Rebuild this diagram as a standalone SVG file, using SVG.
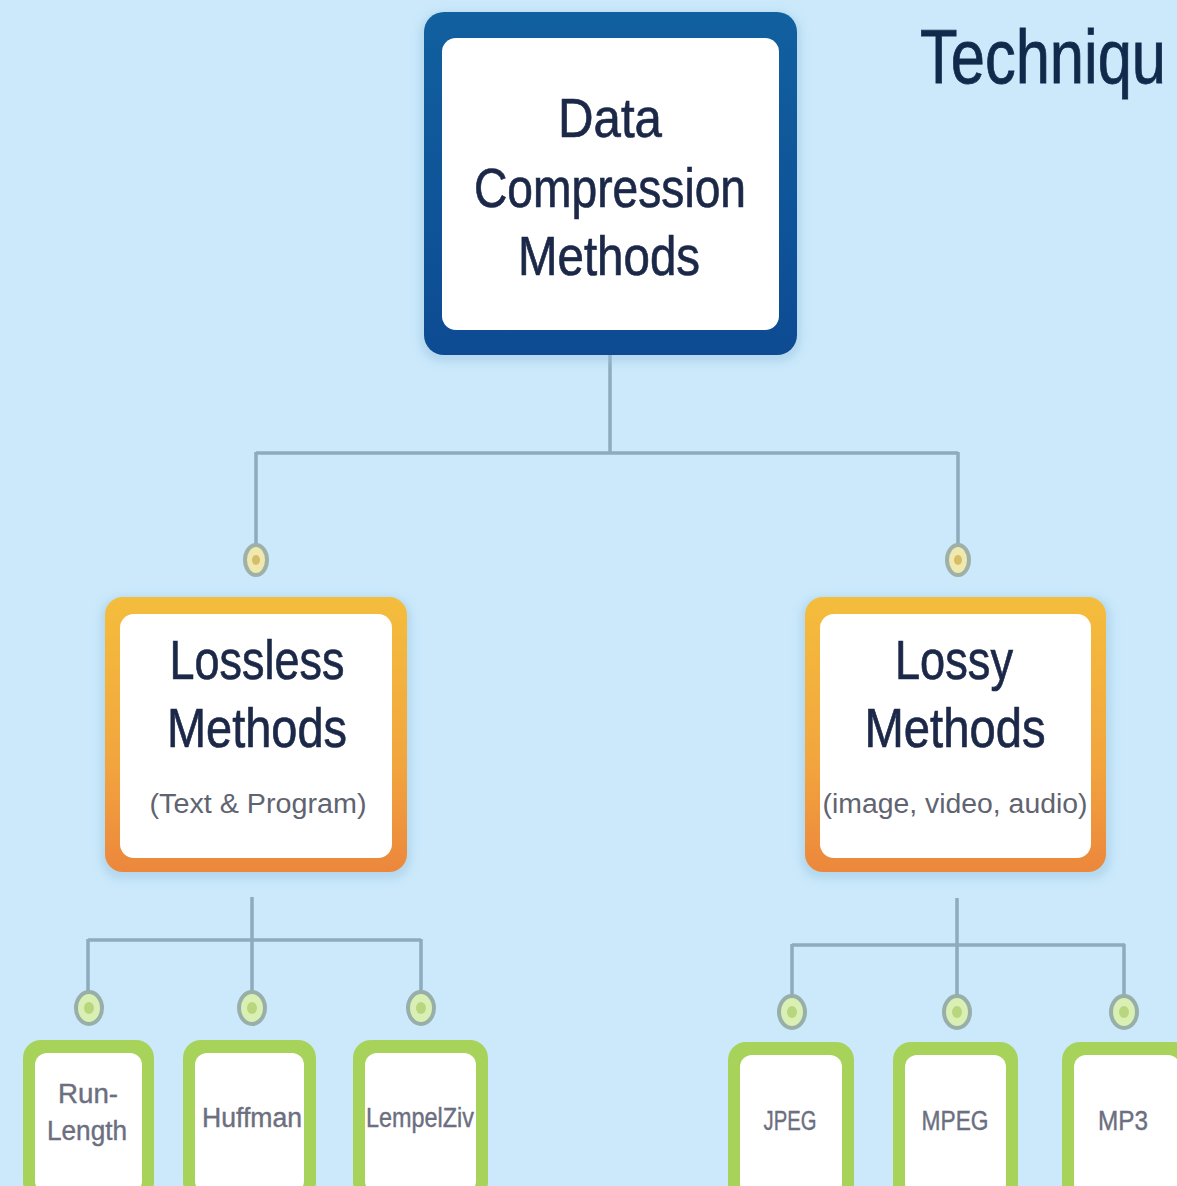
<svg xmlns="http://www.w3.org/2000/svg" width="1177" height="1186" viewBox="0 0 1177 1186">
<defs>
<linearGradient id="orange" x1="0" y1="0" x2="0" y2="1">
<stop offset="0" stop-color="#f4bd3c"/>
<stop offset="0.6" stop-color="#f2a53e"/>
<stop offset="1" stop-color="#ec873c"/>
</linearGradient>
<linearGradient id="blue" x1="0" y1="0" x2="0" y2="1">
<stop offset="0" stop-color="#11609f"/>
<stop offset="1" stop-color="#0d4b93"/>
</linearGradient>
<filter id="glow" x="-10%" y="-10%" width="120%" height="120%">
<feGaussianBlur stdDeviation="4"/>
</filter>
</defs>
<style>
.bg{fill:#cbe9fb}
.wire{fill:none;stroke:#8eaabd;stroke-width:3.5}
.dotY{fill:#f0e9ad;stroke:#9fb0a8;stroke-width:4}
.dotYc{fill:#d8bd68}
.dotG{fill:#d9efb3;stroke:#98afa9;stroke-width:4}
.dotGc{fill:#b8d67e}
.inner{fill:#ffffff}
.greenBox{fill:#a8d35a}
.shadow{fill:#9cc6e0;opacity:0.5}
.big{font-family:"Liberation Sans",Arial,sans-serif;font-size:56px;fill:#1b2848;stroke:#1b2848;stroke-width:0.7;text-anchor:middle}
.sub{font-family:"Liberation Sans",Arial,sans-serif;font-size:27px;fill:#5f6470;text-anchor:middle}
.leaf{font-family:"Liberation Sans",Arial,sans-serif;font-size:27px;fill:#6b6f80;stroke:#6b6f80;stroke-width:0.4;text-anchor:middle}
.title{font-family:"Liberation Sans",Arial,sans-serif;font-size:76px;fill:#112a4c;stroke:#112a4c;stroke-width:0.8}
</style>
<rect class="bg" x="0" y="0" width="1177" height="1186"/>

<text id="title" class="title" x="920" y="83" textLength="246" lengthAdjust="spacingAndGlyphs">Techniqu</text>

<g id="connectors">
<path class="wire" d="M610 355 V453 M256 453 H958 M256 452 V545 M958 452 V545"/>
<path class="wire" d="M252 897 V992 M88 940 H421 M88 939 V992 M421 939 V992"/>
<path class="wire" d="M957 898 V996 M792 945 H1125 M792 944 V996 M1124 944 V996"/>
<ellipse class="dotY" cx="256" cy="560" rx="11" ry="15"/>
<ellipse class="dotYc" cx="256" cy="560" rx="4" ry="5"/>
<ellipse class="dotY" cx="958" cy="560" rx="11" ry="15"/>
<ellipse class="dotYc" cx="958" cy="560" rx="4" ry="5"/>
<ellipse class="dotG" cx="89" cy="1008" rx="13" ry="16"/>
<ellipse class="dotGc" cx="89" cy="1008" rx="5" ry="6"/>
<ellipse class="dotG" cx="252" cy="1008" rx="13" ry="16"/>
<ellipse class="dotGc" cx="252" cy="1008" rx="5" ry="6"/>
<ellipse class="dotG" cx="421" cy="1008" rx="13" ry="16"/>
<ellipse class="dotGc" cx="421" cy="1008" rx="5" ry="6"/>
<ellipse class="dotG" cx="792" cy="1012" rx="13" ry="16"/>
<ellipse class="dotGc" cx="792" cy="1012" rx="5" ry="6"/>
<ellipse class="dotG" cx="957" cy="1012" rx="13" ry="16"/>
<ellipse class="dotGc" cx="957" cy="1012" rx="5" ry="6"/>
<ellipse class="dotG" cx="1124" cy="1012" rx="13" ry="16"/>
<ellipse class="dotGc" cx="1124" cy="1012" rx="5" ry="6"/>
</g>

<g id="root">
<rect class="shadow" x="420" y="12" width="381" height="350" rx="22" filter="url(#glow)"/>
<rect x="424" y="12" width="373" height="343" rx="20" fill="url(#blue)"/>
<rect class="inner" x="442" y="38" width="337" height="292" rx="14"/>
<text class="big" x="610" y="137" textLength="104" lengthAdjust="spacingAndGlyphs">Data</text>
<text class="big" x="610" y="207" textLength="272" lengthAdjust="spacingAndGlyphs">Compression</text>
<text class="big" x="609" y="275" textLength="182" lengthAdjust="spacingAndGlyphs">Methods</text>
</g>

<g id="lossless">
<rect class="shadow" x="101" y="597" width="310" height="282" rx="20" filter="url(#glow)"/>
<rect x="105" y="597" width="302" height="275" rx="18" fill="url(#orange)"/>
<rect class="inner" x="120" y="614" width="272" height="244" rx="14"/>
<text class="big" x="257" y="679" textLength="175" lengthAdjust="spacingAndGlyphs">Lossless</text>
<text class="big" x="257" y="747" textLength="180" lengthAdjust="spacingAndGlyphs">Methods</text>
<text class="sub" x="258" y="813" textLength="217" lengthAdjust="spacingAndGlyphs">(Text &amp; Program)</text>
</g>

<g id="lossy">
<rect class="shadow" x="801" y="597" width="310" height="282" rx="20" filter="url(#glow)"/>
<rect x="805" y="597" width="301" height="275" rx="18" fill="url(#orange)"/>
<rect class="inner" x="820" y="614" width="271" height="244" rx="14"/>
<text class="big" x="954" y="679" textLength="118" lengthAdjust="spacingAndGlyphs">Lossy</text>
<text class="big" x="955" y="747" textLength="181" lengthAdjust="spacingAndGlyphs">Methods</text>
<text class="sub" x="955" y="813" textLength="265" lengthAdjust="spacingAndGlyphs">(image, video, audio)</text>
</g>

<g id="runlength">
<rect class="greenBox" x="23" y="1040" width="131" height="160" rx="18"/>
<rect class="inner" x="35" y="1053" width="107" height="140" rx="12"/>
<text class="leaf" x="88" y="1103" textLength="60" lengthAdjust="spacingAndGlyphs">Run-</text>
<text class="leaf" x="87" y="1140" textLength="80" lengthAdjust="spacingAndGlyphs">Length</text>
</g>

<g id="huffman">
<rect class="greenBox" x="183" y="1040" width="133" height="160" rx="18"/>
<rect class="inner" x="195" y="1053" width="109" height="140" rx="12"/>
<text class="leaf" x="252" y="1127" textLength="100" lengthAdjust="spacingAndGlyphs">Huffman</text>
</g>

<g id="lempelziv">
<rect class="greenBox" x="353" y="1040" width="135" height="160" rx="18"/>
<rect class="inner" x="365" y="1053" width="111" height="140" rx="12"/>
<text class="leaf" x="420" y="1127" textLength="108" lengthAdjust="spacingAndGlyphs">LempelZiv</text>
</g>

<g id="jpeg">
<rect class="greenBox" x="728" y="1042" width="126" height="160" rx="18"/>
<rect class="inner" x="740" y="1055" width="102" height="140" rx="12"/>
<text class="leaf" x="790" y="1130" textLength="53" lengthAdjust="spacingAndGlyphs">JPEG</text>
</g>

<g id="mpeg">
<rect class="greenBox" x="893" y="1042" width="125" height="160" rx="18"/>
<rect class="inner" x="905" y="1055" width="101" height="140" rx="12"/>
<text class="leaf" x="955" y="1130" textLength="67" lengthAdjust="spacingAndGlyphs">MPEG</text>
</g>

<g id="mp3">
<rect class="greenBox" x="1062" y="1042" width="130" height="160" rx="18"/>
<rect class="inner" x="1074" y="1055" width="106" height="140" rx="12"/>
<text class="leaf" x="1123" y="1130" textLength="50" lengthAdjust="spacingAndGlyphs">MP3</text>
</g>
</svg>
